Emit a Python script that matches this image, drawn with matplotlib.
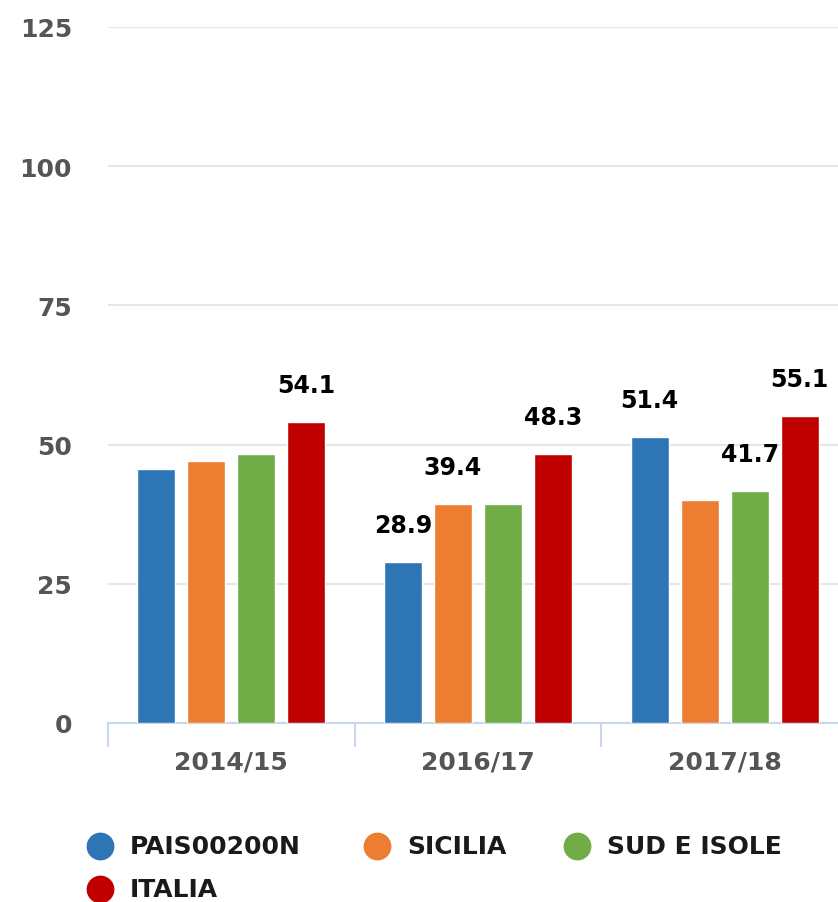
import matplotlib
matplotlib.use('Agg')
import matplotlib.pyplot as plt
import numpy as np

plt.rcParams['font.family'] = ['DejaVu Sans']

# dati
anni = ['2014/15', '2016/17', '2017/18']
serie = ['PAIS00200N', 'SICILIA', 'SUD E ISOLE', 'ITALIA']
colori = ['#2e75b6', '#ed7d31', '#70ad47', '#c00000']
pais = [45.6, 28.9, 51.4]
sicilia = [47.0, 39.4, 40.0]
sud = [48.3, 39.3, 41.7]
italia = [54.1, 48.3, 55.1]
# etichette visibili (None = nascosta)
lab_pais = [None, '28.9', '51.4']
lab_sicilia = [None, '39.4', None]
lab_sud = [None, None, '41.7']
lab_italia = ['54.1', '48.3', '55.1']

valori = [pais, sicilia, sud, italia]
etichette = [lab_pais, lab_sicilia, lab_sud, lab_italia]

fig = plt.figure(figsize=(8.38, 9.03), dpi=100)
W, H = 838, 903
x0, x1 = 108, 848
y0, y1 = 724, 28
ax = fig.add_axes([x0 / W, 1 - y0 / H, (x1 - x0) / W, (y0 - y1) / H])

x = np.arange(len(anni))
step = 0.203
width = 0.154
for i, (v, lab) in enumerate(zip(valori, etichette)):
    pos = x + (i - 1.5) * step
    bars = ax.bar(pos, v, width, color=colori[i], edgecolor='white', linewidth=1, zorder=3)
    for b, l in zip(bars, lab):
        if l is None:
            continue
        ax.annotate(l, (b.get_x() + b.get_width() / 2, b.get_height()),
                    xytext=(0, 18), textcoords='offset points',
                    ha='center', va='bottom', fontsize=17, fontweight='bold', color='black')

ax.set_xlim(-0.5, len(anni) - 0.5)
ax.set_ylim(0, 125)
ax.set_yticks([0, 25, 50, 75, 100, 125])
ax.grid(axis='y', color='#e6e6e6', linewidth=1.5, zorder=0)
for s in ['top', 'right', 'left']:
    ax.spines[s].set_visible(False)
ax.spines['bottom'].set_color('#ccd6eb')
ax.spines['bottom'].set_linewidth(1.5)

ax.set_xticks(x)
ax.set_xticklabels(anni)
ax.tick_params(axis='x', length=0, pad=19, labelsize=18, labelcolor='#555555')
ax.set_xticks(np.arange(len(anni) + 1) - 0.5, minor=True)
ax.tick_params(axis='x', which='minor', length=17, width=1.5, color='#ccd6eb')
ax.tick_params(axis='y', length=0, pad=26, labelsize=18, labelcolor='#555555')
for t in ax.get_xticklabels() + ax.get_yticklabels():
    t.set_fontweight('bold')

# legenda
leg_pos = [(100, 847), (377, 847), (577, 847), (100, 890)]
for nome, c, (lx, ly) in zip(serie, colori, leg_pos):
    fig.add_artist(plt.Line2D([lx / W], [1 - ly / H], marker='o', markersize=19,
                              color=c, linestyle='none', transform=fig.transFigure))
    fig.text((lx + 30) / W, 1 - ly / H, nome, fontsize=18, fontweight='bold',
             color='#1a1a1a', va='center', ha='left')

fig.savefig('out.png', dpi=100)
